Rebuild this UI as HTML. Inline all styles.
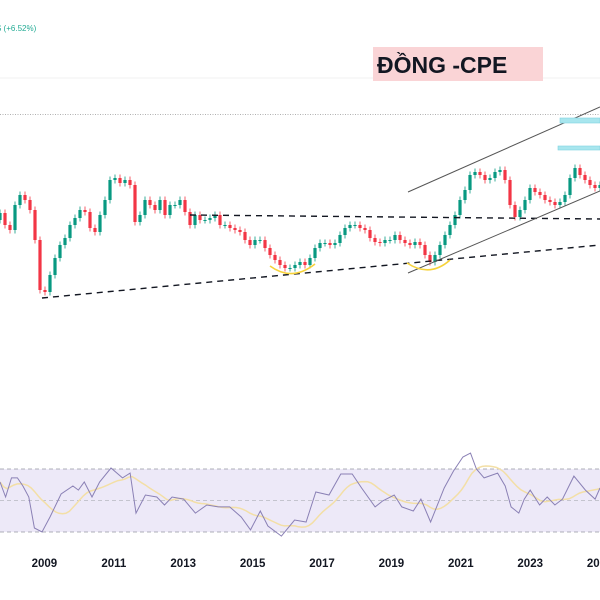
<!DOCTYPE html>
<html><head><meta charset="utf-8"><style>
html,body{margin:0;padding:0;background:#fff;}
svg{display:block;font-family:"Liberation Sans","Noto Sans CJK SC",sans-serif;}
</style></head><body>
<svg id="chart" width="600" height="600" viewBox="0 0 600 600">
<rect x="0" y="0" width="600" height="600" fill="#ffffff"/>
<line x1="0" y1="78" x2="600" y2="78" stroke="#f0f0f0"/>
<line x1="0" y1="114.5" x2="600" y2="114.5" stroke="#b0b0b0" stroke-dasharray="1,1.5"/>
<text x="-4" y="31" font-size="8" fill="#22ab94">S (+6.52%)</text>
<rect x="373" y="47" width="170" height="34" fill="#fad4d6"/>
<text x="377" y="73" font-size="23" font-weight="bold" fill="#131722">ĐỒNG -CPE</text>
<g id="rsi-pane">
<rect x="0" y="469" width="600" height="63" fill="#ede9f8"/>
<line x1="0" y1="469" x2="600" y2="469" stroke="#9598a1" stroke-dasharray="4,3" stroke-width="0.8"/>
<line x1="0" y1="500.5" x2="600" y2="500.5" stroke="#b6b8c0" stroke-dasharray="4,3" stroke-width="0.8"/>
<line x1="0" y1="532" x2="600" y2="532" stroke="#9598a1" stroke-dasharray="4,3" stroke-width="0.8"/>
</g>
<g id="candles"></g>
<g id="overlays">
<line x1="42" y1="298" x2="600" y2="245" stroke="#131722" stroke-width="1.4" stroke-dasharray="6,5"/>
<line x1="190" y1="215" x2="600" y2="219" stroke="#131722" stroke-width="1.4" stroke-dasharray="6,5"/>
<line x1="408" y1="192" x2="600" y2="107" stroke="#555" stroke-width="1"/>
<line x1="408" y1="273" x2="600" y2="191" stroke="#555" stroke-width="1"/>
<rect x="560" y="118" width="40" height="5" fill="#a8e6ee" stroke="#7fd3df" stroke-width="0.6"/>
<rect x="558" y="146" width="42" height="4" fill="#a8e6ee" stroke="#7fd3df" stroke-width="0.6"/>
<path d="M270 266 Q292 282 315 264" fill="none" stroke="#f6d23a" stroke-width="1.6"/>
<path d="M407 263 Q430 278 450 260" fill="none" stroke="#f6d23a" stroke-width="1.6"/>
</g>
<g id="rsi-lines"></g>
<g id="xaxis"></g>
</svg>
<script>
// Candle closes (monthly-ish bars, price in thousand units)
const closes = [11.7,10.5,10.0,12.5,13.5,13.0,12.0,9.0,4.0,3.8,5.5,7.2,8.5,9.2,10.5,11.2,12.0,11.8,10.2,9.8,11.5,13.0,15.0,15.2,14.7,15.0,14.5,10.8,11.5,13.0,12.5,12.0,13.0,11.5,12.5,12.5,13.0,11.8,10.5,11.5,11.0,11.0,11.2,11.5,10.5,10.5,10.2,10.0,9.8,9.0,8.5,9.0,9.0,8.2,7.5,7.0,6.5,6.2,6.2,6.5,6.8,6.5,7.2,8.2,8.7,8.7,8.5,8.7,9.5,10.2,10.5,10.5,10.2,10.0,9.2,8.8,8.7,9.0,9.0,9.5,9.0,8.7,8.5,8.8,8.5,7.5,6.8,7.5,8.5,9.5,10.5,11.5,13.0,14.0,15.5,15.8,15.5,15.0,15.2,15.8,16.0,15.0,12.5,11.3,12.0,13.0,14.2,13.8,13.5,13.0,12.8,12.5,12.8,13.5,15.2,16.2,15.5,15.0,14.5,14.2,14.5];
const firstOpen = 11.0;
// RSI readings: time (years since Oct 2007) and value
const rsiTimes = [0,0.16,0.33,0.50,0.66,0.83,0.99,1.21,1.44,1.76,2.10,2.26,2.43,2.65,2.87,3.20,3.53,3.75,3.92,4.19,4.52,4.74,4.96,5.29,5.63,5.96,6.29,6.62,6.95,7.22,7.50,7.72,8.11,8.49,8.82,9.10,9.48,9.82,10.15,10.42,10.81,11.03,11.36,11.58,11.91,12.13,12.41,12.80,13.07,13.34,13.56,13.73,13.95,14.34,14.56,14.73,14.95,15.11,15.28,15.55,15.77,15.99,16.21,16.54,16.87,17.15,17.29];
const rsiValues = [61.4,51.9,64,64,58.9,51.9,32.2,29.7,39.2,53.8,58.9,56.3,61.4,51.9,61.4,70.3,64,67.1,41.7,53.2,51.9,46.8,51.9,50.6,41.7,46.8,45.6,45.6,39.2,31,43,33.5,27.1,37.3,36,55.1,53.2,66.5,66.5,57.6,45.6,49.4,53.2,45.6,43,50.6,36,57.6,68.4,77.3,79.8,69.7,64,67.1,58.9,45.6,41.7,50.6,56.3,46.8,51.9,46.8,50.6,65.2,56.3,50.6,57.6];
const yearLabels = ["2009","2011","2013","2015","2017","2019","2021","2023","2025"];
const yearTicks = [2009,2011,2013,2015,2017,2019,2021,2023,2025];

const NS="http://www.w3.org/2000/svg";
const START=2007.76, PXY=34.7, BAR=5/34.7;
function xOfYear(y){return (y-START)*PXY;}
function xOfBar(i){return xOfYear(START+i*BAR);}
function yOfPrice(p){return 330-p*10;}
function yOfRsi(v){return 500-(v-50)*1.575;}

const cg=document.getElementById('candles');
let prev=firstOpen;
closes.forEach((c,i)=>{
  const o=prev, x=xOfBar(i);
  const up=c>=o, col=up?'#089981':'#f23645';
  const hi=Math.max(o,c)+0.35, lo=Math.min(o,c)-0.35;
  const w=document.createElementNS(NS,'line');
  w.setAttribute('x1',x);w.setAttribute('x2',x);
  w.setAttribute('y1',yOfPrice(hi));w.setAttribute('y2',yOfPrice(lo));
  w.setAttribute('stroke',col);w.setAttribute('stroke-width','0.8');
  
  
  cg.appendChild(w);
  const r=document.createElementNS(NS,'rect');
  const y1=yOfPrice(Math.max(o,c)), y2=yOfPrice(Math.min(o,c));
  r.setAttribute('x',x-1.6);r.setAttribute('width',3.2);
  r.setAttribute('y',y1);r.setAttribute('height',Math.max(1,y2-y1));
  r.setAttribute('fill',col);
  
  
  cg.appendChild(r);
  prev=c;
});

// RSI line
const rg=document.getElementById('rsi-lines');
function interp(t){
  if(t<=rsiTimes[0])return rsiValues[0];
  for(let k=1;k<rsiTimes.length;k++){if(t<=rsiTimes[k]){const f=(t-rsiTimes[k-1])/(rsiTimes[k]-rsiTimes[k-1]);return rsiValues[k-1]+f*(rsiValues[k]-rsiValues[k-1]);}}
  return rsiValues[rsiValues.length-1];
}
const grid=[];for(let t=0;t<=17.3;t+=0.1)grid.push(t);
const sampled=grid.map(interp);
const ma=sampled.map((v,i)=>{const a=Math.max(0,i-10);let s=0;for(let k=a;k<=i;k++)s+=sampled[k];return s/(i-a+1);});
const maPath=document.createElementNS(NS,'path');
maPath.setAttribute('d',grid.map((t,i)=>(i?'L':'M')+xOfYear(START+t).toFixed(1)+' '+yOfRsi(ma[i]).toFixed(1)).join(' '));
maPath.setAttribute('fill','none');maPath.setAttribute('stroke','#f3dfa6');maPath.setAttribute('stroke-width','1.5');


rg.appendChild(maPath);
const rp=document.createElementNS(NS,'path');
rp.setAttribute('d',rsiTimes.map((t,i)=>(i?'L':'M')+xOfYear(START+t).toFixed(1)+' '+yOfRsi(rsiValues[i]).toFixed(1)).join(' '));
rp.setAttribute('fill','none');rp.setAttribute('stroke','#8a80b5');rp.setAttribute('stroke-width','1');


rg.appendChild(rp);

// X axis
const xg=document.getElementById('xaxis');
yearTicks.forEach((yr,i)=>{
  const t=document.createElementNS(NS,'text');
  t.setAttribute('x',xOfYear(yr+0.04));t.setAttribute('y',567);
  t.setAttribute('text-anchor','middle');t.setAttribute('font-size','11.5');
  t.setAttribute('font-weight','bold');t.setAttribute('fill','#131722');
  
  
  t.textContent=yearLabels[i];
  xg.appendChild(t);
});
</script>
</body></html>
